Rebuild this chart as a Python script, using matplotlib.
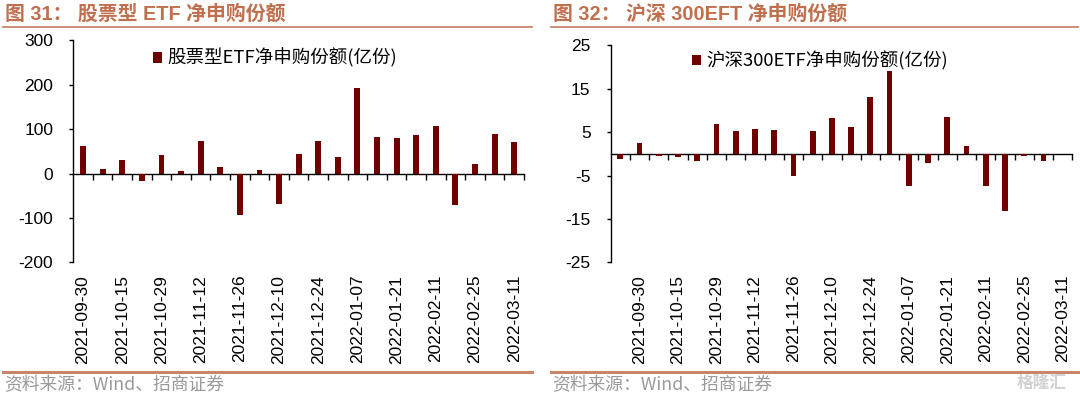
import matplotlib
matplotlib.use("Agg")
import matplotlib.pyplot as plt
from matplotlib.lines import Line2D
import numpy as np

# ---------------- data ----------------
left_dates = ['2021-09-30', '2021-10-08', '2021-10-15', '2021-10-22', '2021-10-29',
              '2021-11-05', '2021-11-12', '2021-11-19', '2021-11-26', '2021-12-03',
              '2021-12-10', '2021-12-17', '2021-12-24', '2021-12-31', '2022-01-07',
              '2022-01-14', '2022-01-21', '2022-01-28', '2022-02-11', '2022-02-18',
              '2022-02-25', '2022-03-04', '2022-03-11']
left_values = [61, 10, 30, -16, 42, 6, 74, 15, -94, 8, -69, 43, 74, 38, 193,
               82, 79, 86, 106, -70, 22, 89, 71]

right_dates = ['2021-09-24', '2021-09-30', '2021-10-08', '2021-10-15', '2021-10-22',
               '2021-10-29', '2021-11-05', '2021-11-12', '2021-11-19', '2021-11-26',
               '2021-12-03', '2021-12-10', '2021-12-17', '2021-12-24', '2021-12-31',
               '2022-01-07', '2022-01-14', '2022-01-21', '2022-01-28', '2022-02-11',
               '2022-02-18', '2022-02-25', '2022-03-04', '2022-03-11']
right_values = [-1.3, 2.6, -0.5, -0.7, -1.7, 6.9, 5.3, 5.8, 5.5, -5.1, 5.2, 8.2,
                6.2, 13.2, 19.2, -7.3, -2.0, 8.6, 1.9, -7.3, -13.1, -0.5, -1.7, 0]

label_dates = ['2021-09-30', '2021-10-15', '2021-10-29', '2021-11-12', '2021-11-26',
               '2021-12-10', '2021-12-24', '2022-01-07', '2022-01-21', '2022-02-11',
               '2022-02-25', '2022-03-11']

left_title = '图 31： 股票型 ETF 净申购份额'
right_title = '图 32： 沪深 300EFT 净申购份额'
left_legend = '股票型ETF净申购份额(亿份)'
right_legend = '沪深300ETF净申购份额(亿份)'
left_yticks = [-200, -100, 0, 100, 200, 300]
right_yticks = [-25, -15, -5, 5, 15, 25]
source_text = '资料来源：Wind、招商证券'

# ---------------- style ----------------
BAR = '#6E0000'
TITLE_C = '#C0704F'
LINE_C = '#C9856A'
SRC_C = '#9A9A9A'
NUM_FONT = ['Liberation Sans', 'Noto Sans CJK SC']
CJK_FONT = ['Noto Sans CJK SC', 'DejaVu Sans']
plt.rcParams['font.family'] = NUM_FONT

W, H = 1080, 397
fig = plt.figure(figsize=(W / 100, H / 100), dpi=100)


def px(x, y):
    return x / W, 1 - y / H


def draw_panel(rect, dates, values, yticks, legend_text, legend_anchor):
    ax = fig.add_axes(rect)
    x = np.arange(len(dates))
    ax.bar(x, values, width=0.3, color=BAR, label=legend_text, zorder=3)
    ax.set_xlim(-0.5, len(dates) - 0.5)
    ax.set_ylim(yticks[0], yticks[-1])
    ax.set_yticks(yticks)
    ax.set_yticklabels([str(t) for t in yticks], fontsize=12.5)
    ax.tick_params(axis='y', direction='out', length=3, width=1, pad=11.5)
    for s in ['top', 'right']:
        ax.spines[s].set_visible(False)
    ax.spines['left'].set_linewidth(1)
    # zero axis with boundary ticks
    ax.spines['bottom'].set_position(('data', 0))
    ax.spines['bottom'].set_linewidth(1)
    ax.set_xticks(np.arange(len(dates)) + 0.5)
    ax.set_xticklabels([])
    ax.tick_params(axis='x', direction='out', length=4, width=1)
    # date labels at the bottom of the axes
    sec = ax.secondary_xaxis(0.0)
    pos = [dates.index(d) for d in label_dates]
    sec.set_xticks(pos)
    sec.set_xticklabels(label_dates, rotation=90, fontsize=12.5)
    sec.tick_params(length=0, pad=9)
    sec.spines['bottom'].set_visible(False)
    ax.legend(loc='center left', bbox_to_anchor=legend_anchor, frameon=False,
              prop={'family': CJK_FONT, 'size': 13.3},
              handlelength=0.5, handleheight=0.5, handletextpad=0.3,
              borderaxespad=0, borderpad=0)
    return ax


# left panel: axes spans x 73..524 px, y 40..262 px
l0, t0 = px(73.3, 40.3)
l1, b0 = px(524, 262.3)
draw_panel([l0, b0, l1 - l0, t0 - b0], left_dates, left_values, left_yticks,
           left_legend, (0.176, 0.92))

r0, rt = px(610.7, 45.4)
r1, rb = px(1072.3, 262.3)
draw_panel([r0, rb, r1 - r0, rt - rb], right_dates, right_values, right_yticks,
           right_legend, (0.176, 0.93))


def header(x0, x1, title):
    xs, ys = px(x0 + 2, 14)
    fig.text(xs, ys, title, color=TITLE_C, fontsize=14.3, fontweight='bold',
             family=['Liberation Sans', 'Noto Sans CJK SC'], va='center', ha='left')
    a, y = px(x0, 27)
    b, _ = px(x1, 27)
    fig.add_artist(Line2D([a, b], [y, y], color=LINE_C, lw=1.3, transform=fig.transFigure))
    a2, y2 = px(x0, 372)
    b2, _ = px(x1, 372)
    fig.add_artist(Line2D([a2, b2], [y2, y2], color=LINE_C, lw=2.2, transform=fig.transFigure))
    sx, sy = px(x0 + 1, 385)
    fig.text(sx, sy, source_text, color=SRC_C, fontsize=12.8, family=CJK_FONT,
             va='center', ha='left')


header(3, 532, left_title)
header(551, 1078, right_title)

wx, wy = px(1042, 383)
fig.text(wx, wy, '格隆汇', color='#D2D2D2', fontsize=12, family=CJK_FONT,
         va='center', ha='center', fontweight='bold')

fig.savefig('out.png', dpi=100)
